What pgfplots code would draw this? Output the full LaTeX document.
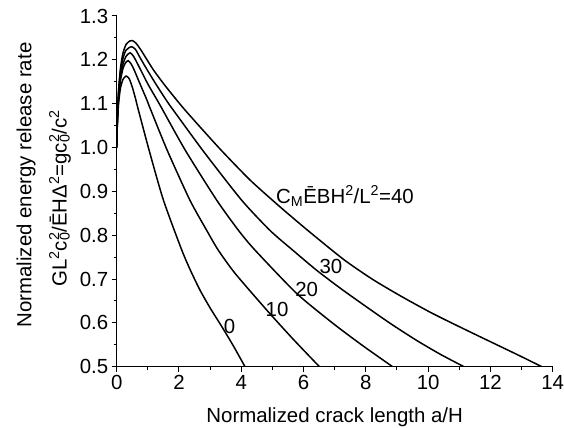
\documentclass[border=0pt]{standalone}
\usepackage{fontspec}
\setmainfont{Liberation Sans}
\usepackage{pgfplots}
\pgfplotsset{compat=1.18}
\newcommand{\supsub}[2]{\makebox[0pt][l]{\textsuperscript{#1}}\textsubscript{#2}}
\pgfplotsset{curve/.style={black, no markers, line width=1.5pt, smooth, tension=0.4}}
\begin{document}
\begin{tikzpicture}[font=\fontsize{20.5}{24.6}\selectfont]
\begin{axis}[
  name=ax,
  at={(0,0)}, anchor=south west,
  scale only axis, width=436bp, height=350.7bp,
  xmin=0, xmax=14, ymin=0.5, ymax=1.3,
  axis lines=left, axis line style={-, line width=1pt},
  tick align=outside,
  tick style={black, line width=1pt},
  major tick length=5bp, minor tick length=3bp,
  xtick={0,2,4,6,8,10,12,14},
  ytick={0.5,0.6,0.7,0.8,0.9,1.0,1.1,1.2,1.3},
  minor x tick num=1, minor y tick num=1,
  /pgf/number format/assume math mode=true,
  yticklabel style={/pgf/number format/.cd, fixed, fixed zerofill, precision=1},
  xlabel={Normalized crack length a/H},
  xlabel style={at={(axis description cs:0.5,-0.1577)}, anchor=base},
  ylabel={Normalized energy release rate},
  ylabel style={at={(axis description cs:-0.2080,0.518)}, anchor=center},
  clip=true,
]
% a = 0
\addplot[curve] coordinates {(0,1.0) (0.02,1.05) (0.06,1.10) (0.12,1.135) (0.2,1.155) (0.3,1.163) (0.4,1.157) (0.5,1.138) (0.61,1.11) (0.68,1.09) (1.04,0.994) (1.50,0.88) (2.09,0.766) (2.38,0.718) (2.68,0.674) (3.0,0.634) (3.37,0.592) (3.75,0.547) (4.12,0.5)};
% a = 10
\addplot[curve] coordinates {(0,1.0) (0.02,1.055) (0.06,1.11) (0.12,1.152) (0.2,1.18) (0.28,1.193) (0.37,1.198) (0.47,1.19) (0.56,1.177) (0.75,1.145) (0.96,1.11) (1.07,1.09) (1.62,0.994) (2.35,0.88) (2.89,0.811) (3.26,0.766) (3.80,0.713) (4.82,0.629) (5.65,0.564) (6.51,0.5)};
% a = 20
\addplot[curve] coordinates {(0,1.0) (0.02,1.058) (0.06,1.12) (0.12,1.163) (0.2,1.19) (0.3,1.208) (0.43,1.216) (0.55,1.207) (0.77,1.177) (1.0,1.145) (1.30,1.108) (1.46,1.088) (2.2,0.994) (3.21,0.88) (3.91,0.811) (4.44,0.766) (5.78,0.667) (6.96,0.598) (7.9,0.548) (8.86,0.5)};
% a = 30
\addplot[curve] coordinates {(0,1.0) (0.02,1.06) (0.06,1.125) (0.12,1.172) (0.2,1.203) (0.3,1.222) (0.47,1.23) (0.6,1.224) (0.75,1.205) (0.98,1.177) (1.3,1.14) (1.62,1.105) (1.82,1.085) (2.8,0.99) (4.01,0.88) (4.92,0.811) (5.65,0.766) (6.42,0.72) (7.2,0.678) (8.03,0.636) (8.8,0.598) (9.63,0.56) (10.4,0.528) (11.15,0.5)};
% a = 40
\addplot[curve] coordinates {(0,1.0) (0.02,1.062) (0.06,1.13) (0.12,1.18) (0.2,1.215) (0.3,1.235) (0.42,1.243) (0.5,1.244) (0.62,1.238) (0.8,1.22) (1.18,1.177) (1.6,1.137) (2.2,1.085) (3.3,0.998) (4.28,0.926) (5.19,0.868) (6.1,0.813) (7.28,0.745) (8.2,0.70) (9.1,0.662) (10.1,0.623) (11.24,0.583) (12.85,0.528) (13.65,0.5)};
\node at (axis cs:3.62,0.591) {0};
\node at (axis cs:5.15,0.630) {10};
\node at (axis cs:6.10,0.676) {20};
\node at (axis cs:6.88,0.729) {30};
\node at (axis cs:7.33,0.889) {C\textsubscript{M}ĒBH\textsuperscript{2}/L\textsuperscript{2}=40};
\end{axis}
\node[rotate=90, anchor=center] at (-56.7bp,168.2bp) {GL\textsuperscript{2}c\supsub{2}{0}/ĒHΔ\textsuperscript{2}=gc\supsub{2}{0}/c\textsuperscript{2}};
\pgfresetboundingbox
\useasboundingbox (-116.7bp,-61.3bp) rectangle (447.3bp,366.7bp);
\end{tikzpicture}
\end{document}
